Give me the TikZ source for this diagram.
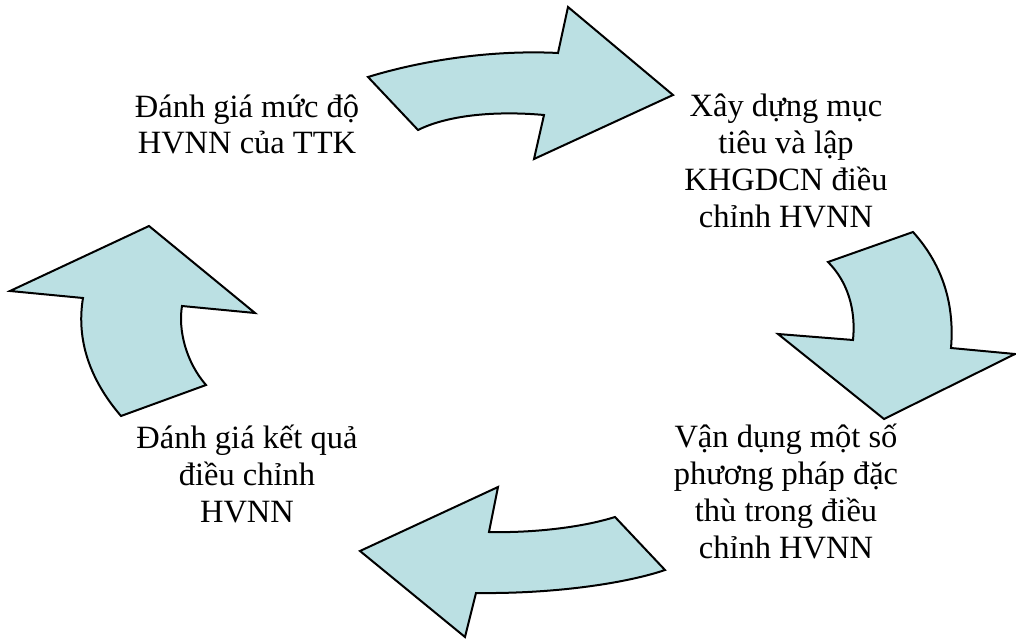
\documentclass[tikz,border=0pt]{standalone}
\usepackage{fontspec}
\setmainfont{Liberation Serif}
\begin{document}
\begin{tikzpicture}[x=1pt,y=-1pt,
  bentarrow/.style={fill=arrowfill,draw=black,line width=2pt,line join=miter},
  steplabel/.style={align=center,inner sep=0pt,anchor=base,
    font=\fontsize{32.5}{36.8}\selectfont}]
\definecolor{arrowfill}{RGB}{187,224,227}
\useasboundingbox (0,0) rectangle (1016,639);

% top arrow, pointing right
\draw[bentarrow] (368,77) .. controls (430,58) and (500,50) .. (558,53)
  -- (568,7) -- (673,95) -- (534,159) -- (544,115)
  .. controls (500,111) and (450,114) .. (418,130) -- cycle;

% right arrow, pointing down
\draw[bentarrow] (828,262) -- (913,232) .. controls (940,262) and (955,300) .. (951,348)
  -- (1015,354) -- (884,419) -- (778,334) -- (853,340)
  .. controls (856,310) and (848,282) .. (828,262) -- cycle;

% bottom arrow, pointing left
\draw[bentarrow] (615,517) -- (665,570) .. controls (630,582) and (560,594) .. (476,593)
  -- (465,637) -- (360,551) -- (498,487) -- (489,532)
  .. controls (530,533) and (580,528) .. (615,517) -- cycle;

% left arrow, pointing up
\draw[bentarrow] (149,226) -- (255,313) -- (182,306)
  .. controls (178,330) and (186,362) .. (206,385)
  -- (121,416) .. controls (90,380) and (76,340) .. (83,298)
  -- (10,291) -- cycle;

% step labels (base anchor sits on the last line)
\node[steplabel] (assess) at (247,154) {Đánh giá mức độ\\HVNN của TTK};
\node[steplabel] (plan) at (786,227) {Xây dựng mục\\tiêu và lập\\KHGDCN điều\\chỉnh HVNN};
\node[steplabel] (apply) at (786,558) {Vận dụng một số\\phương pháp đặc\\thù trong điều\\chỉnh HVNN};
\node[steplabel] (evaluate) at (247,522) {Đánh giá kết quả\\điều chỉnh\\HVNN};
\end{tikzpicture}
\end{document}
